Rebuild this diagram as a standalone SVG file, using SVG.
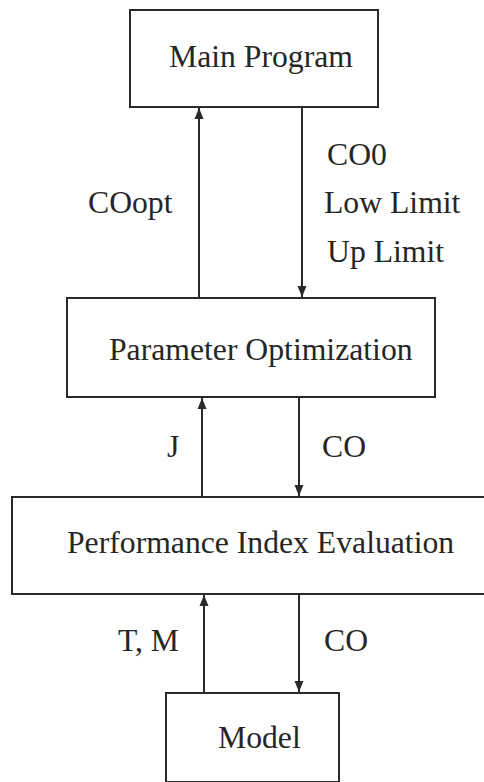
<svg xmlns="http://www.w3.org/2000/svg" width="484" height="782" viewBox="0 0 484 782">
  <style>
    .box { fill: #ffffff; stroke: #2a2a2a; stroke-width: 2; }
    .lbl { font-family: 'Liberation Serif', 'Times New Roman', 'DejaVu Serif', serif; font-size: 31.7px; fill: #262626; }
    .wire { stroke: #2a2a2a; stroke-width: 2; fill: none; marker-end: url(#head); }
  </style>
  <defs>
    <marker id="head" markerUnits="userSpaceOnUse" markerWidth="12" markerHeight="12" viewBox="0 0 12 12" refX="11" refY="6" orient="auto">
      <path d="M0,1.5 L11,6 L0,10.5 Z" fill="#2a2a2a"/>
    </marker>
  </defs>
  <rect width="484" height="782" fill="#ffffff"/>

  <g id="main-program">
    <rect class="box" x="130" y="10" width="248" height="97"/>
    <text class="lbl" font-family="Liberation Serif, serif" x="169" y="67">Main Program</text>
  </g>

  <g id="parameter-optimization">
    <rect class="box" x="67" y="298" width="368" height="99"/>
    <text class="lbl" font-family="Liberation Serif, serif" x="109" y="360">Parameter Optimization</text>
  </g>

  <g id="performance-index-evaluation">
    <rect class="box" x="12" y="497" width="480" height="97"/>
    <text class="lbl" font-family="Liberation Serif, serif" x="67" y="553">Performance Index Evaluation</text>
  </g>

  <g id="model">
    <rect class="box" x="166" y="693" width="173" height="89"/>
    <text class="lbl" font-family="Liberation Serif, serif" x="218" y="748">Model</text>
  </g>

  <g id="connectors" font-family="Liberation Serif, serif">
    <line class="wire" x1="199" y1="298" x2="199" y2="108"/>
    <line class="wire" x1="302" y1="107" x2="302" y2="297"/>
    <line class="wire" x1="202" y1="497" x2="202" y2="398"/>
    <line class="wire" x1="299" y1="397" x2="299" y2="496"/>
    <line class="wire" x1="204" y1="693" x2="204" y2="595"/>
    <line class="wire" x1="299" y1="594" x2="299" y2="692"/>
    <text class="lbl" x="88" y="213">COopt</text>
    <text class="lbl" x="327" y="165">CO0</text>
    <text class="lbl" x="324" y="213">Low Limit</text>
    <text class="lbl" x="327" y="262">Up Limit</text>
    <text class="lbl" x="167" y="457">J</text>
    <text class="lbl" x="322" y="457">CO</text>
    <text class="lbl" x="118" y="651">T, M</text>
    <text class="lbl" x="324" y="651">CO</text>
  </g>
</svg>
